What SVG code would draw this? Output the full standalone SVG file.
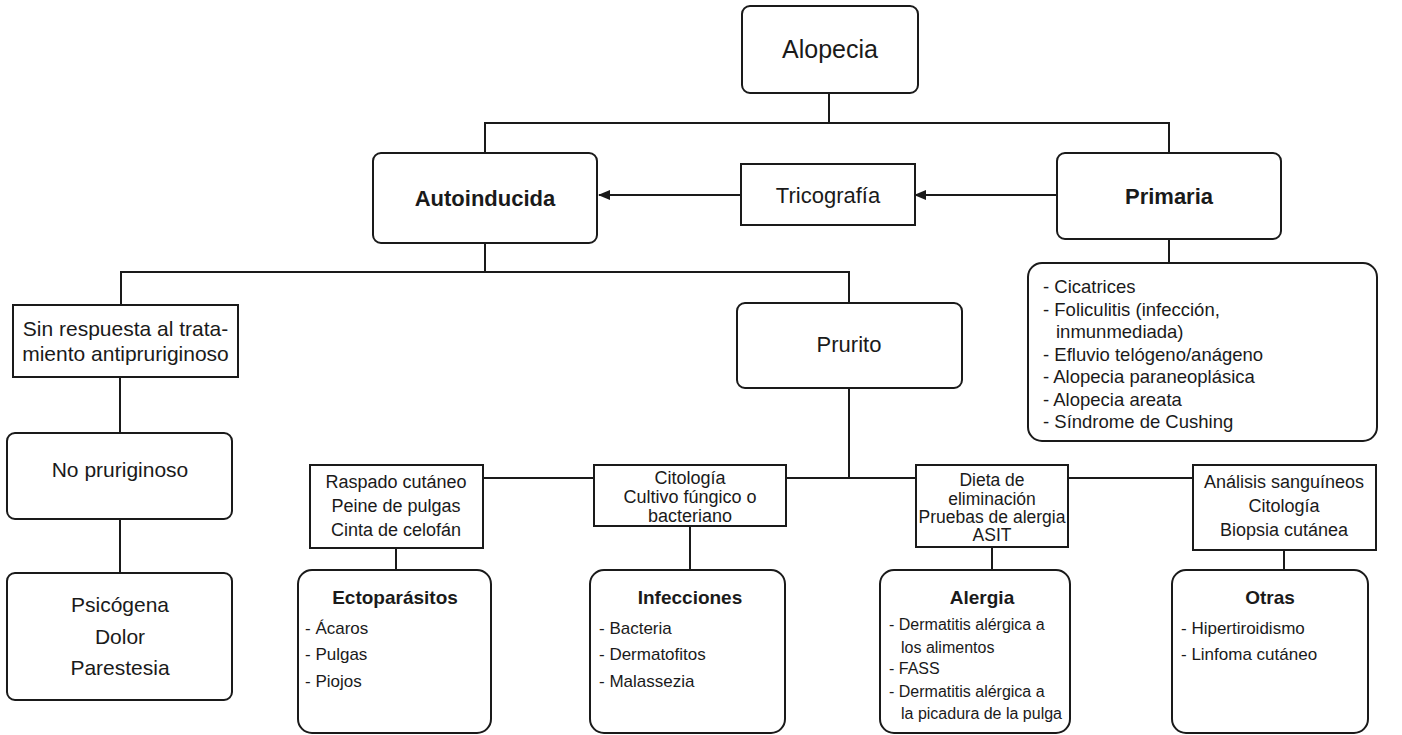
<svg xmlns="http://www.w3.org/2000/svg" width="1402" height="735" viewBox="0 0 1402 735">
<style>
.box{fill:#fff;stroke:#1a1a1a;stroke-width:2}
.ln{fill:none;stroke:#1a1a1a;stroke-width:2}
text{font-family:"Liberation Sans",Arial,sans-serif;fill:#1a1a1a}
.c{text-anchor:middle}
.b{font-weight:bold}
.t16{font-size:16px}
.t17{font-size:17px}
.t18{font-size:18px}
.t21{font-size:21px}
.t22{font-size:22px}
</style>
<defs>
<marker id="ah" markerWidth="12" markerHeight="10" refX="11" refY="5" orient="auto" markerUnits="userSpaceOnUse">
<path d="M0,0 L12,5 L0,10 Z" fill="#1a1a1a"/>
</marker>
</defs>
<rect width="1402" height="735" fill="#fff"/>
<g id="connectors">
<path class="ln" d="M829,93 V123 M485,153 V123 H1169 V153"/>
<path class="ln" d="M1057,195 H915" marker-end="url(#ah)"/>
<path class="ln" d="M741,195 H599" marker-end="url(#ah)"/>
<path class="ln" d="M485,243 V272 M121,305 V272 H849 V303"/>
<path class="ln" d="M1169,239 V263"/>
<path class="ln" d="M120,377 V433 M120,519 V573"/>
<path class="ln" d="M849,388 V478 M483,478 H1193"/>
<path class="ln" d="M396,548 V570 M690,526 V570 M992,547 V570 M1284,550 V570"/>
</g>
<g id="alopecia"><rect class="box" x="742" y="6" width="176" height="87" rx="8"/><text class="c" x="830" y="58" font-size="25">Alopecia</text></g>
<g id="autoinducida"><rect class="box" x="373" y="153" width="224" height="90" rx="8"/><text class="c b t22" x="485" y="206">Autoinducida</text></g>
<g id="tricografia"><rect class="box" x="741" y="164" width="174" height="61"/><text class="c t22" x="828" y="203">Tricografía</text></g>
<g id="primaria"><rect class="box" x="1057" y="153" width="224" height="86" rx="8"/><text class="c b t22" x="1169" y="204">Primaria</text></g>
<g id="primaria-list"><rect class="box" x="1028" y="263" width="349" height="178" rx="14"/>
<text font-size="18.5"><tspan x="1043" y="293">- Cicatrices</tspan><tspan x="1043" y="315.5">- Foliculitis (infección,</tspan><tspan x="1056" y="338">inmunmediada)</tspan><tspan x="1043" y="360.5">- Efluvio telógeno/anágeno</tspan><tspan x="1043" y="383">- Alopecia paraneoplásica</tspan><tspan x="1043" y="405.5">- Alopecia areata</tspan><tspan x="1043" y="428">- Síndrome de Cushing</tspan></text></g>
<g id="sin-respuesta"><rect class="box" x="13" y="305" width="225" height="72"/><text class="c t21"><tspan x="125.5" y="335.5">Sin respuesta al trata-</tspan><tspan x="125.5" y="360.5">miento antipruriginoso</tspan></text></g>
<g id="no-pruriginoso"><rect class="box" x="7" y="433" width="225" height="86" rx="8"/><text class="c t21" x="120" y="477">No pruriginoso</text></g>
<g id="psicogena"><rect class="box" x="7" y="573" width="225" height="127" rx="8"/><text class="c t21"><tspan x="120" y="612">Psicógena</tspan><tspan x="120" y="644">Dolor</tspan><tspan x="120" y="675">Parestesia</tspan></text></g>
<g id="prurito"><rect class="box" x="737" y="303" width="225" height="85" rx="8"/><text class="c t22" x="849" y="352">Prurito</text></g>
<g id="raspado"><rect class="box" x="310" y="465" width="173" height="83"/><text class="c t18"><tspan x="396" y="487.5">Raspado cutáneo</tspan><tspan x="396" y="511.5">Peine de pulgas</tspan><tspan x="396" y="535.5">Cinta de celofán</tspan></text></g>
<g id="citologia"><rect class="box" x="594" y="465" width="192" height="61"/><text class="c t18"><tspan x="690" y="483.5">Citología</tspan><tspan x="690" y="502.5">Cultivo fúngico o</tspan><tspan x="690" y="521.5">bacteriano</tspan></text></g>
<g id="dieta"><rect class="box" x="916" y="465" width="152" height="82"/><text class="c" font-size="17.5"><tspan x="992" y="485.5">Dieta de</tspan><tspan x="992" y="504.5">eliminación</tspan><tspan x="992" y="522.5">Pruebas de alergia</tspan><tspan x="992" y="540.5">ASIT</tspan></text></g>
<g id="analisis"><rect class="box" x="1193" y="465" width="183" height="85"/><text class="c t18"><tspan x="1284" y="487.5">Análisis sanguíneos</tspan><tspan x="1284" y="511.5">Citología</tspan><tspan x="1284" y="535.5">Biopsia cutánea</tspan></text></g>
<g id="ectoparasitos"><rect class="box" x="298" y="570" width="193" height="163" rx="14"/><text class="c b" font-size="19" x="395" y="604">Ectoparásitos</text><text class="t17"><tspan x="305" y="634">- Ácaros</tspan><tspan x="305" y="660">- Pulgas</tspan><tspan x="305" y="687">- Piojos</tspan></text></g>
<g id="infecciones"><rect class="box" x="590" y="570" width="195" height="163" rx="14"/><text class="c b" font-size="19" x="690" y="604">Infecciones</text><text class="t17"><tspan x="599" y="634">- Bacteria</tspan><tspan x="599" y="660">- Dermatofitos</tspan><tspan x="599" y="687">- Malassezia</tspan></text></g>
<g id="alergia"><rect class="box" x="880" y="570" width="190" height="163" rx="14"/><text class="c b" font-size="19" x="982" y="604">Alergia</text><text class="t16"><tspan x="889" y="630">- Dermatitis alérgica a</tspan><tspan x="901" y="653">los alimentos</tspan><tspan x="889" y="674">- FASS</tspan><tspan x="889" y="697">- Dermatitis alérgica a</tspan><tspan x="901" y="719">la picadura de la pulga</tspan></text></g>
<g id="otras"><rect class="box" x="1172" y="570" width="196" height="163" rx="14"/><text class="c b" font-size="19" x="1270" y="604">Otras</text><text class="t17"><tspan x="1181" y="634">- Hipertiroidismo</tspan><tspan x="1181" y="660">- Linfoma cutáneo</tspan></text></g>
</svg>
